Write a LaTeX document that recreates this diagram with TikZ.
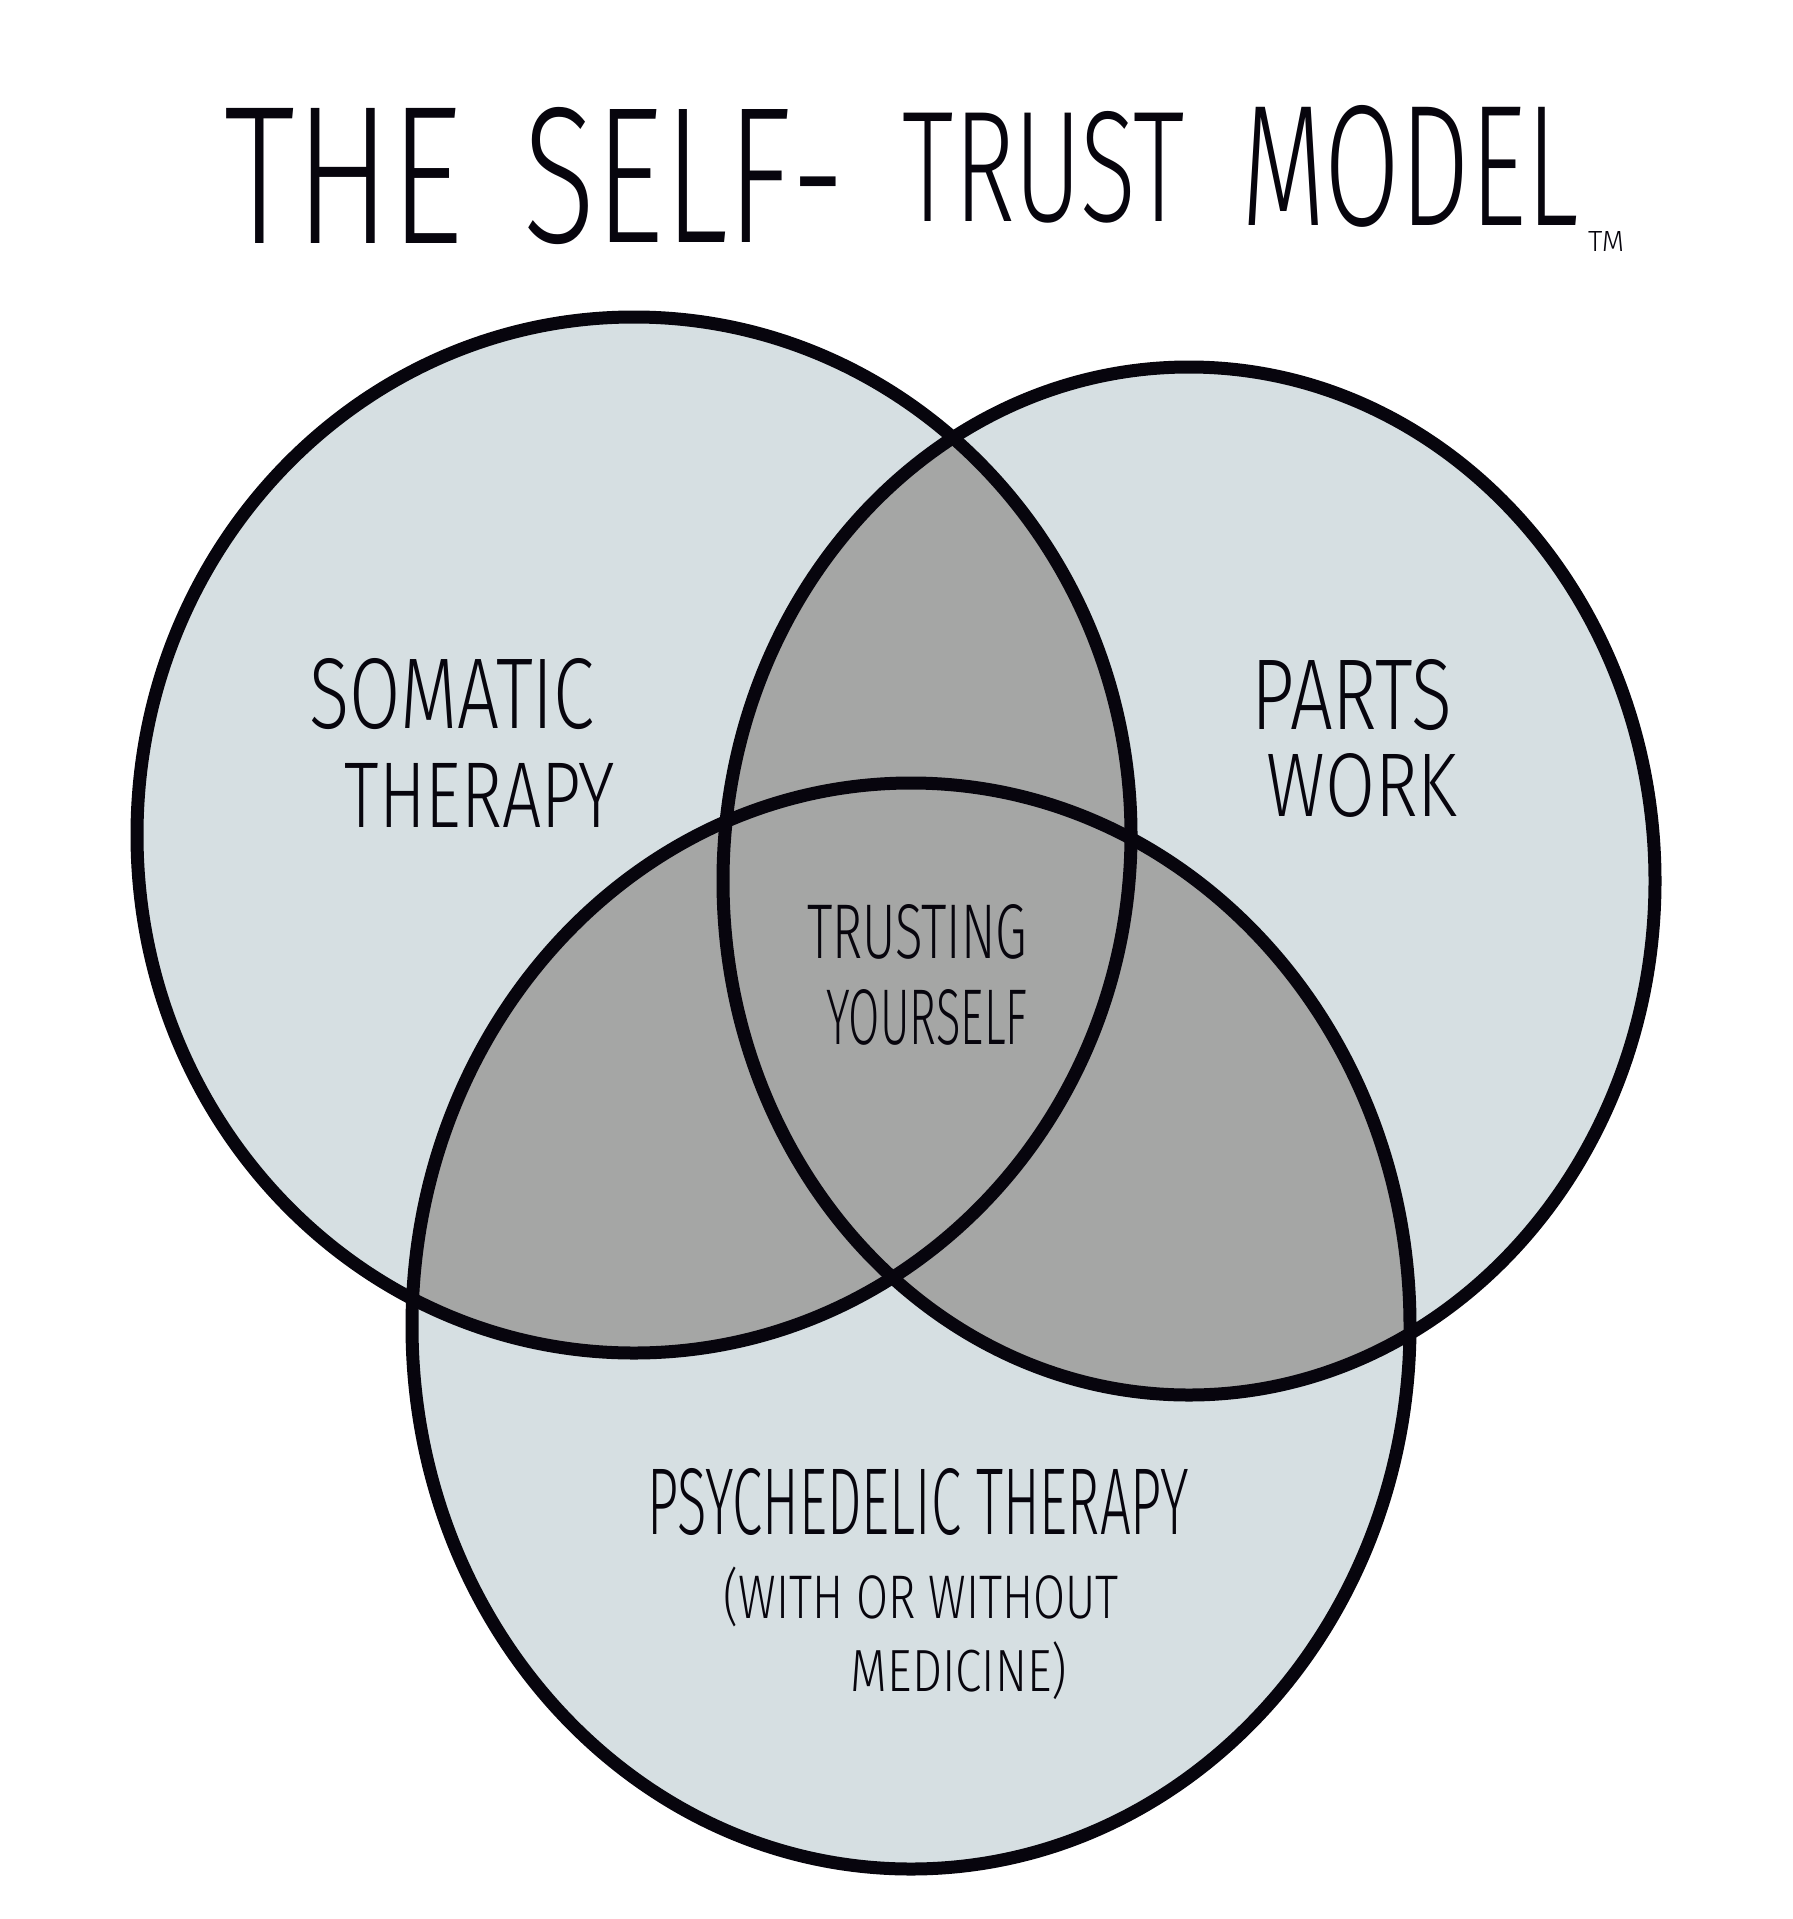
\documentclass[tikz,border=0pt]{standalone}
\usepackage{fontspec}
\setmainfont{Fira Sans Light}
\usepackage{graphicx}
\definecolor{lightfill}{HTML}{D6DFE2}
\definecolor{darkfill}{HTML}{A5A6A5}
\definecolor{ink}{HTML}{07050D}
\tikzset{
  ring/.style={draw=ink, line width=13pt},
  lbl/.style={inner sep=0pt, text=ink},
}
\newcommand{\fitword}[3]{\resizebox{#1pt}{#2pt}{#3}}
\newcommand{\fitwordt}[3]{\resizebox*{#1pt}{#2pt}{#3}}
\begin{document}
\begin{tikzpicture}[x=1pt,y=-1pt]
\useasboundingbox[fill=white] (0,0) rectangle (1792,1919);
% light fills
\fill[lightfill] (634,835) ellipse [x radius=497pt, y radius=518pt];
\fill[lightfill] (1189,881) ellipse [x radius=466pt, y radius=514pt];
\fill[lightfill] (911,1326) ellipse [x radius=499pt, y radius=543pt];
% overlaps
\begin{scope}
  \clip (634,835) ellipse [x radius=497pt, y radius=518pt];
  \fill[darkfill] (1189,881) ellipse [x radius=466pt, y radius=514pt];
  \fill[darkfill] (911,1326) ellipse [x radius=499pt, y radius=543pt];
\end{scope}
\begin{scope}
  \clip (1189,881) ellipse [x radius=466pt, y radius=514pt];
  \fill[darkfill] (911,1326) ellipse [x radius=499pt, y radius=543pt];
\end{scope}
% outlines
\draw[ring] (634,835) ellipse [x radius=497pt, y radius=518pt];
\draw[ring] (1189,881) ellipse [x radius=466pt, y radius=514pt];
\draw[ring] (911,1326) ellipse [x radius=499pt, y radius=543pt];
% title
\node[lbl] (t1) at (344,176) {\fitword{239}{135}{THE}};
\node[lbl] (t2) at (684,176) {\fitword{321}{135}{SELF-}};
\node[lbl] (t3) at (1044,167) {\fitword{282}{110}{TRUST}};
\node[lbl] (t4) at (1410,166) {\fitword{337}{120}{MODEL}};
\node[lbl] (tm) at (1606,241) {\fitword{36}{20}{TM}};
% labels
\node[lbl] (som1) at (452,694) {\fitword{285}{70}{SOMATIC}};
\node[lbl] (som2) at (480,795) {\fitword{270}{64}{THERAPY}};
\node[lbl] (par1) at (1352,695) {\fitword{201}{70}{PARTS}};
\node[lbl] (par2) at (1362,785) {\fitword{191}{63}{WORK}};
\node[lbl] (tr1) at (917,932) {\fitword{220}{54}{TRUSTING}};
\node[lbl] (tr2) at (927,1017) {\fitword{201}{55}{YOURSELF}};
\node[lbl] (ps1) at (918,1502) {\fitword{541}{66}{PSYCHEDELIC THERAPY}};
\node[lbl] (ps2) at (921,1597) {\fitwordt{395}{60}{(WITH OR WITHOUT}};
\node[lbl] (ps3) at (959,1671) {\fitwordt{216}{58}{MEDICINE)}};
\end{tikzpicture}
\end{document}
